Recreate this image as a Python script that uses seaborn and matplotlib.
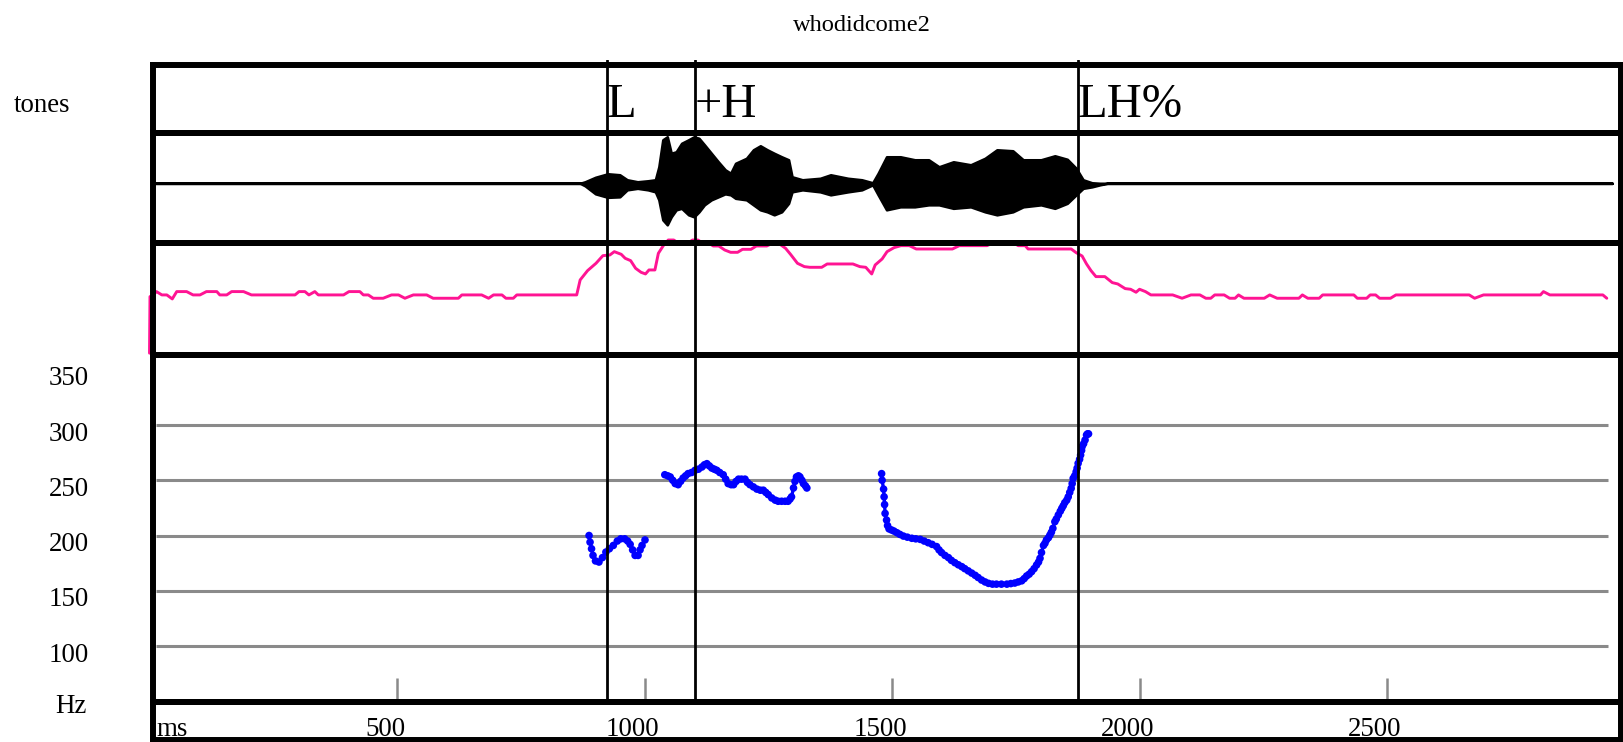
import numpy as np
import pandas as pd
import matplotlib
matplotlib.use("Agg")
import matplotlib.pyplot as plt
import matplotlib.transforms as mtransforms
import seaborn as sns

# ---------------- data ----------------
title = "whodidcome2"
tier_label = "tones"
tone_times = [924, 1102, 1875]
tone_labels = ["L", "+H", "LH%"]

time_ticks = [500, 1000, 1500, 2000, 2500]
time_tick_labels = ["500", "1000", "1500", "2000", "2500"]
hz_grid = [100, 150, 200, 250, 300]
hz_labels = [350, 300, 250, 200, 150, 100]

# pitch (ms, Hz), three voiced stretches
seg1_t = [888, 890, 893, 896, 901, 908, 915, 922, 929, 937, 945, 952, 960, 966, 971, 976, 981, 987, 991, 995, 1001]
seg1_hz = [200, 194, 188, 182, 177, 176, 180, 185, 188, 191, 195, 197, 197, 195, 192, 187, 182, 182, 187, 191, 196]

seg2_t = [1041, 1047, 1052, 1057, 1062, 1068, 1073, 1078, 1083, 1088, 1095, 1102, 1109, 1116, 1121, 1126,
          1131, 1136, 1141, 1146, 1152, 1159, 1164, 1169, 1175, 1180, 1185, 1190, 1196, 1203, 1208, 1213,
          1220, 1227, 1234, 1240, 1245, 1250, 1257, 1264, 1270, 1277, 1284, 1290, 1294, 1297, 1301, 1304,
          1307, 1311, 1314, 1318, 1321, 1325, 1328]
seg2_hz = [255, 254, 253, 250, 247, 246, 249, 252, 254, 256, 257, 259, 260, 262, 264, 265,
           263, 261, 260, 259, 257, 255, 251, 247, 246, 246, 249, 251, 251, 251, 248, 246,
           244, 242, 241, 241, 239, 237, 234, 232, 231, 231, 231, 231, 233, 235, 243, 249,
           253, 254, 253, 250, 247, 245, 243]

seg3_t = [1479, 1480, 1483, 1484, 1485, 1486, 1489, 1491, 1494, 1499, 1504, 1510, 1516, 1523, 1531, 1540,
          1548, 1557, 1565, 1573, 1581, 1590, 1595, 1600, 1607, 1614, 1620, 1627, 1634, 1641, 1647, 1654,
          1661, 1668, 1674, 1681, 1688, 1695, 1703, 1711, 1721, 1732, 1740, 1748, 1755, 1762, 1767, 1772,
          1777, 1782, 1787, 1792, 1796, 1799, 1802, 1806, 1809, 1812, 1816, 1819, 1822, 1825, 1829, 1832,
          1836, 1840, 1843, 1846, 1849, 1853, 1856, 1859, 1862, 1864, 1866, 1869, 1872, 1874, 1876, 1879,
          1881, 1883, 1884, 1887, 1890, 1893, 1895, 1897]
seg3_hz = [256, 250, 242, 235, 228, 220, 214, 209, 206, 205, 204, 202.5, 201, 199.5, 198.5, 197.5,
           197, 196.5, 195, 193.5, 192, 190, 187, 184.6, 182, 180, 177.5, 175.4, 173.5, 171.8, 170, 168,
           166, 164, 162, 159.7, 158, 156.7, 156, 156, 156, 156, 156.5, 157, 158, 159, 161, 163.4,
           165, 167.3, 170, 173.3, 176, 179.4, 184.6, 191, 193, 196, 198, 200.4, 203, 206.5, 212.5, 215,
           218.6, 222, 224.6, 227, 229.7, 232, 235, 239, 242.7, 247, 251.7, 254, 257.7, 261, 265.3, 269,
           272.8, 277, 280.4, 283, 286.4, 291, 292, 292]

# intensity-like contour (ms, dB)
inten_t = [0, 1, 6, 14, 25, 35, 46, 55, 75, 88, 102, 115, 136, 142, 156, 166, 190, 206, 294, 302, 314, 322,
           334, 341, 392, 403, 425, 432, 442, 452, 472, 489, 503, 516, 533, 560, 573, 624, 631, 671, 685,
           695, 712, 720, 735, 742, 863, 870, 885, 902, 916, 930, 939, 953, 961, 972, 982, 993, 1002, 1009,
           1021, 1028, 1038, 1048, 1059, 1069, 1087, 1097, 1108, 1116, 1128, 1139, 1150, 1162, 1174, 1188,
           1198, 1215, 1226, 1247, 1261, 1269, 1285, 1295, 1309, 1323, 1334, 1358, 1369, 1421, 1435, 1447,
           1459, 1466, 1480, 1490, 1504, 1518, 1535, 1549, 1622, 1636, 1692, 1706, 1744, 1755, 1769, 1775,
           1862, 1872, 1884, 1893, 1902, 1912, 1930, 1945, 1956, 1971, 1982, 1993, 2000, 2012, 2023, 2067,
           2086, 2104, 2122, 2134, 2144, 2152, 2171, 2182, 2193, 2200, 2211, 2252, 2263, 2278, 2322, 2329,
           2340, 2363, 2370, 2433, 2440, 2459, 2466, 2477, 2485, 2507, 2518, 2666, 2677, 2695, 2810, 2816,
           2829, 2936, 2944]
inten_db = [42.5, 59.5, 59.7, 61, 60, 60, 58.8, 61, 61, 60, 60, 61, 61, 60, 60, 61, 61, 60, 60, 61, 61, 60,
            61, 60, 60, 61, 61, 60, 60, 59, 59, 60, 60, 59, 60, 60, 59, 59, 60, 60, 59,
            60, 60, 59, 59, 60, 60, 64.5, 67.3, 69.5, 71.8, 72, 73, 72.2, 71, 70.3, 68, 66.8, 66.3, 67.5,
            67.5, 72.5, 74.8, 76.5, 76.5, 75.5, 75.5, 76.5, 76.5, 75.7, 75.7, 74.7, 74.7, 73.5, 72.8, 72.8,
            73.7, 73.7, 74.7, 74.7, 75.7, 75.7, 74, 72.2, 69.5, 68.5, 68.3, 68.3, 69.3, 69.3, 68.5, 68.3,
            66.3, 69, 70.8, 73, 74.2, 74.8, 74.8, 73.8, 73.8, 74.8, 74.8, 75.8, 75.8, 74.8, 74.8, 73.8,
            73.8, 72.7, 71.7, 69.3, 67.3, 65.5, 65.5, 63.7, 63.3, 61.9, 61.7, 60.8, 61.7, 61, 60, 60,
            59, 60, 60, 59, 59, 60, 60, 59, 59, 60, 59, 59, 60, 59, 59, 60,
            59, 59, 60, 60, 59, 59, 60, 60, 59, 59, 60, 60, 59, 60, 60, 61,
            60, 60, 59]

# waveform envelope (ms, upper, lower amplitude)
wave_t = [0, 870, 880, 901, 926, 950, 965, 986, 1007, 1022, 1029, 1037, 1046, 1054, 1064, 1075, 1089, 1100,
          1110, 1121, 1135, 1149, 1163, 1174, 1184, 1206, 1220, 1234, 1248, 1262, 1277, 1291, 1298, 1319,
          1355, 1376, 1411, 1439, 1461, 1472, 1489, 1517, 1546, 1574, 1595, 1624, 1659, 1688, 1712, 1744,
          1765, 1801, 1829, 1854, 1872, 1886, 1904, 1920, 1935, 2955]
wave_hi = [0, 0, 0.03, 0.12, 0.19, 0.17, 0.07, 0.03, 0.05, 0.07, 0.33, 0.87, 0.93, 0.60, 0.63, 0.80, 0.87, 0.93,
           0.90, 0.77, 0.60, 0.43, 0.27, 0.20, 0.40, 0.50, 0.67, 0.75, 0.67, 0.60, 0.53, 0.47, 0.13, 0.07,
           0.10, 0.17, 0.10, 0.07, 0.01, 0.20, 0.53, 0.53, 0.47, 0.47, 0.33, 0.43, 0.37, 0.50, 0.67, 0.65,
           0.47, 0.47, 0.55, 0.48, 0.30, 0.07, 0.01, 0.0, 0, 0]
wave_lo = [0, 0, -0.05, -0.21, -0.28, -0.27, -0.13, -0.10, -0.13, -0.17, -0.33, -0.73, -0.83, -0.67, -0.53, -0.50,
           -0.63, -0.67, -0.57, -0.43, -0.33, -0.27, -0.21, -0.23, -0.30, -0.33, -0.43, -0.53, -0.57, -0.63,
           -0.57, -0.40, -0.17, -0.13, -0.17, -0.23, -0.17, -0.13, -0.03, -0.23, -0.53, -0.47, -0.47, -0.43,
           -0.43, -0.50, -0.47, -0.57, -0.63, -0.57, -0.47, -0.43, -0.50, -0.40, -0.23, -0.10, -0.07, -0.03, 0, 0]

# ---------------- styling / layout ----------------
sns.set_style("white")
plt.rcParams['font.family'] = ['Liberation Serif', 'DejaVu Serif']
plt.rcParams['text.color'] = 'black'

W, H = 1624, 742
fig = plt.figure(figsize=(W / 100, H / 100), dpi=100)

X_LEFT, X_RIGHT = 153, 1621
XLIM = (7.07, 2972.7)
FRAME_LW = 4.3
TXT = 19.4


def add_axes(y_top, y_bot):
    return fig.add_axes([X_LEFT / W, 1 - y_bot / H, (X_RIGHT - X_LEFT) / W, (y_bot - y_top) / H])


def frame(ax):
    ax.set_xlim(*XLIM)
    for s in ax.spines.values():
        s.set_visible(True)
        s.set_color("black")
        s.set_linewidth(FRAME_LW)
    ax.set_xticks([])
    ax.set_yticks([])
    ax.set_xlabel("")
    ax.set_ylabel("")
    ax.patch.set_alpha(0)


def ftext(xpx, ypx, s, **kw):
    fig.text(xpx / W, 1 - ypx / H, s, va="baseline", color="black", **kw)


ax_tones = add_axes(65, 132.5)
ax_wave = add_axes(132.5, 243)
ax_int = add_axes(243, 354.5)
ax_pitch = add_axes(354.5, 701.5)
ax_time = add_axes(701.5, 740)

# tones tier
frame(ax_tones)
ax_tones.set_ylim(0, 1)
for t, lab in zip(tone_times, tone_labels):
    ax_tones.text(t, 0.23, lab, fontsize=35, ha="left", va="baseline", color="black")

# waveform tier
ax_wave.fill_between(wave_t, wave_lo, wave_hi, facecolor="black", edgecolor="black", linewidth=1.9)
frame(ax_wave)
ax_wave.set_ylim(-1.194, 1.016)

# intensity tier
df_int = pd.DataFrame({"t": inten_t, "db": inten_db})
sns.lineplot(data=df_int, x="t", y="db", ax=ax_int, color="#ff1493", linewidth=2.1,
             estimator=None, sort=False, clip_on=False)
frame(ax_int)
ax_int.set_ylim(42.1, 75.6)

# pitch tier
df_p = pd.DataFrame({
    "t": seg1_t + seg2_t + seg3_t,
    "hz": seg1_hz + seg2_hz + seg3_hz,
    "seg": [1] * len(seg1_t) + [2] * len(seg2_t) + [3] * len(seg3_t),
})
ax_pitch.hlines(hz_grid, 13, 2946, color="#8a8a8a", linewidth=2.2, zorder=1)
sns.lineplot(data=df_p, x="t", y="hz", units="seg", estimator=None, sort=False,
             ax=ax_pitch, color="#0000ff", linewidth=2.4, zorder=3)
sns.scatterplot(data=df_p, x="t", y="hz", ax=ax_pitch, color="#0000ff", s=30,
                edgecolor="none", linewidth=0, zorder=4)
frame(ax_pitch)
ax_pitch.set_ylim(49.8, 363.8)
ax_pitch.set_xticks(time_ticks)
ax_pitch.tick_params(axis="x", bottom=True, direction="in", length=17.6, width=1.8,
                     color="#8a8a8a", labelbottom=False)
ylab_tr = mtransforms.blended_transform_factory(fig.transFigure, ax_pitch.transData) + \
    mtransforms.ScaledTranslation(0, -15.5 / 100, fig.dpi_scale_trans)
for v in hz_labels:
    ax_pitch.text(69 / W, v, str(v), transform=ylab_tr, fontsize=TXT, ha="center", va="baseline",
                  color="black")

# time tier
frame(ax_time)
ax_time.set_ylim(0, 1)
tl_tr = mtransforms.blended_transform_factory(ax_time.transData, ax_time.transAxes) + \
    mtransforms.ScaledTranslation(-12 / 100, 0, fig.dpi_scale_trans)
for t, lab in zip(time_ticks, time_tick_labels):
    ax_time.text(t, 0.104, lab, transform=tl_tr, fontsize=TXT, ha="center", va="baseline", color="black")
ax_time.text(0.0, 0.104, "ms",
             transform=ax_time.transAxes + mtransforms.ScaledTranslation(3 / 100, 0, fig.dpi_scale_trans),
             fontsize=TXT, ha="left", va="baseline", color="black")

# tone boundary lines across tiers
ax_lines = add_axes(60, 701.5)
ax_lines.set_xlim(*XLIM)
ax_lines.set_ylim(0, 1)
ax_lines.axis("off")
for t in tone_times:
    ax_lines.axvline(t, color="black", linewidth=2.0)

# free texts
ftext(862, 31, title, fontsize=17.6, ha="center")
ftext(14, 112, tier_label, fontsize=TXT, ha="left")
ftext(71, 713, "Hz", fontsize=TXT, ha="center")

fig.savefig("out.png", dpi=100)
